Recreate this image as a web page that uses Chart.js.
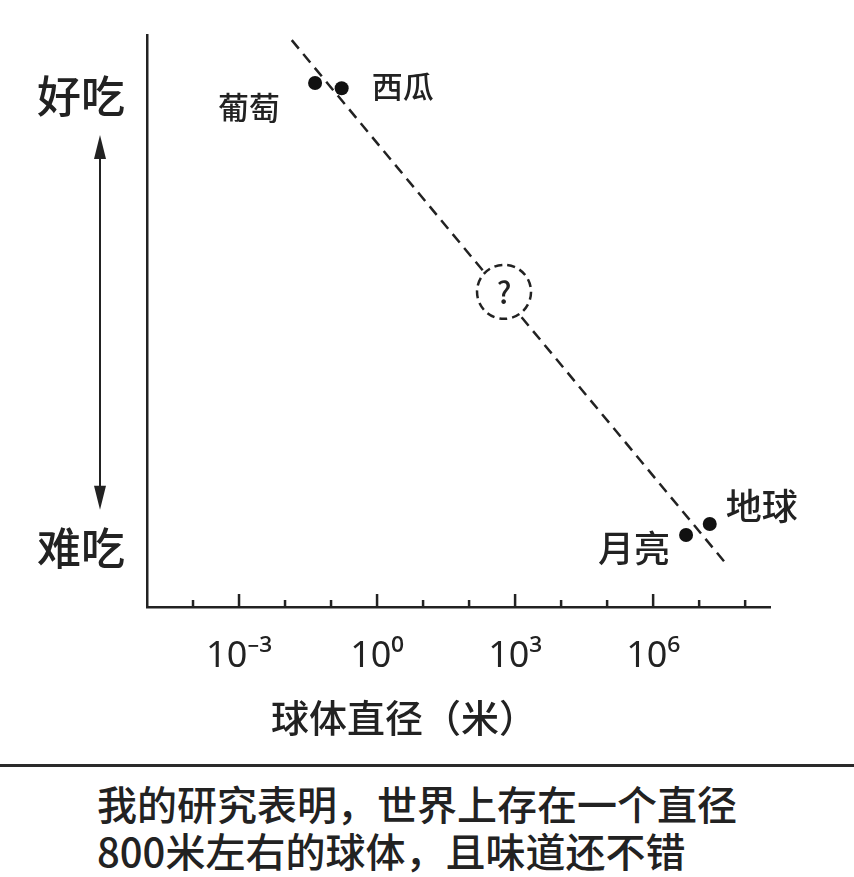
<!DOCTYPE html>
<html>
<head>
<meta charset="utf-8">
<script src="https://cdn.jsdelivr.net/npm/chart.js@4.4.1/dist/chart.umd.min.js"></script>
<style>
  html, body { margin: 0; padding: 0; background: #fff; }
  #wrap { position: relative; width: 854px; height: 764px; }
  #rule { width: 854px; height: 0; border-top: 3px solid #2a2a2a; }
  #caption {
    margin-top: 13px;
    padding-left: 97px;
    font-family: "Noto Sans CJK SC", sans-serif;
    font-weight: 500;
    font-size: 40px;
    line-height: 47px;
    color: #222;
  }
</style>
</head>
<body>
<div id="wrap"><canvas id="chart"></canvas></div>
<div id="rule"></div>
<div id="caption">我的研究表明，世界上存在一个直径<br>800米左右的球体，且味道还不错</div>
<script>
// data (x = diameter in metres, y = tastiness 0..100)
const categories = ['葡萄', '西瓜', '月亮', '地球'];
const diameters = [0.045, 0.17, 5.2e6, 1.7e7];
const tastiness = [91.6, 90.7, 12.6, 14.5];

const trendX = [0.014, 4.1e7];
const trendY = [99.1, 7.3];

const guessX = [575];
const guessY = [55.1];

const xTickExponents = [-4, -3, -2, -1, 0, 1, 2, 3, 4, 5, 6, 7, 8];
const xLabelExponents = [-3, 0, 3, 6];
const yTickValues = [89.2, 10.3];
const yTickLabels = ['好吃', '难吃'];
const arrowRange = [82.5, 17];

// label placement relative to each point (px)
const labelOffsets = [[-66, 24], [61, -2], [-52, 13], [52, -18]];
const labelSizes = [31, 31, 36, 36];

const INK = '#222';
const FONT = '"Noto Sans CJK SC", "Noto Sans", sans-serif';
const SUP = { '-': '⁻', '0': '⁰', '1': '¹', '2': '²', '3': '³', '4': '⁴', '5': '⁵', '6': '⁶', '7': '⁷', '8': '⁸', '9': '⁹' };

function sup(n) {
  return String(n).split('').map(c => SUP[c]).join('');
}

const sketchPlugin = {
  id: 'sketch',
  afterDatasetsDraw: (chart) => {
    var ctx = chart.ctx;
    ctx.save();

    // dashed circle with question mark
    var q = chart.getDatasetMeta(1).data[0];
    ctx.strokeStyle = INK;
    ctx.lineWidth = 2.5;
    ctx.setLineDash([8, 5]);
    ctx.beginPath();
    ctx.arc(q.x, q.y, 27, 0, Math.PI * 2);
    ctx.stroke();
    ctx.setLineDash([]);
    ctx.fillStyle = INK;
    ctx.font = '500 30px ' + FONT;
    ctx.textAlign = 'center';
    ctx.textBaseline = 'middle';
    ctx.fillText('?', q.x, q.y + 1);

    // point names
    var pts = chart.getDatasetMeta(2).data;
    pts.forEach((p, i) => {
      ctx.font = '500 ' + labelSizes[i] + 'px ' + FONT;
      ctx.fillText(categories[i], p.x + labelOffsets[i][0], p.y + labelOffsets[i][1]);
    });
    ctx.restore();
  },
  afterDraw: (chart) => {
    var ctx = chart.ctx,
    xs = chart.scales.x,
    ys = chart.scales.y,
    area = chart.chartArea;
    ctx.save();
    ctx.strokeStyle = INK;
    ctx.fillStyle = INK;
    ctx.lineWidth = 2.5;

    // tick marks pointing up into the plot
    xs.ticks.forEach(t => {
      var k = Math.round(Math.log10(t.value));
      var len = xLabelExponents.includes(k) ? 13 : 7;
      var px = xs.getPixelForValue(t.value);
      ctx.beginPath();
      ctx.moveTo(px, area.bottom);
      ctx.lineTo(px, area.bottom - len);
      ctx.stroke();
    });

    // double arrow between 好吃 and 难吃
    var ax = 100;
    var y1 = ys.getPixelForValue(arrowRange[0]);
    var y2 = ys.getPixelForValue(arrowRange[1]);
    ctx.lineWidth = 2;
    ctx.beginPath();
    ctx.moveTo(ax, y1 + 10);
    ctx.lineTo(ax, y2 - 10);
    ctx.stroke();
    ctx.beginPath();
    ctx.moveTo(ax, y1);
    ctx.lineTo(ax - 6, y1 + 24);
    ctx.lineTo(ax + 6, y1 + 24);
    ctx.closePath();
    ctx.fill();
    ctx.beginPath();
    ctx.moveTo(ax, y2);
    ctx.lineTo(ax - 6, y2 - 24);
    ctx.lineTo(ax + 6, y2 - 24);
    ctx.closePath();
    ctx.fill();

    // axis title
    ctx.font = '500 38px ' + FONT;
    ctx.textAlign = 'center';
    ctx.textBaseline = 'middle';
    ctx.fillText('球体直径（米）', 404, 718);
    ctx.restore();
  }
};

window.addEventListener('load', () => {
  Chart.defaults.font.family = FONT;
  Chart.defaults.color = INK;

  var config = {
    type: 'scatter',
    data: {
      datasets: [
        {
          label: 'trend',
          data: trendX.map((x, i) => ({ x: x, y: trendY[i] })),
          showLine: true,
          borderColor: INK,
          borderWidth: 2.5,
          borderDash: [11, 7],
          pointRadius: 0,
          order: 3,
        },
        {
          label: 'guess',
          data: guessX.map((x, i) => ({ x: x, y: guessY[i] })),
          pointRadius: 27,
          backgroundColor: '#fff',
          borderWidth: 0,
          order: 2,
        },
        {
          label: 'spheres',
          data: diameters.map((x, i) => ({ x: x, y: tastiness[i] })),
          pointRadius: 7,
          backgroundColor: '#111',
          borderWidth: 0,
          order: 1,
        },
      ],
    },
    options: {
      responsive: true,
      maintainAspectRatio: false,
      animation: false,
      layout: { padding: { left: 0, top: 35, right: 84, bottom: 0 } },
      plugins: {
        legend: { display: false },
        tooltip: { enabled: false },
      },
      scales: {
        x: {
          type: 'logarithmic',
          min: 1e-5,
          max: Math.pow(10, 8.54),
          grid: { display: false, drawTicks: false },
          border: { display: true, color: INK, width: 2.5 },
          afterBuildTicks: (scale) => {
            scale.ticks = xTickExponents.map(k => ({ value: Math.pow(10, k) }));
          },
          afterFit: (scale) => {
            scale.height = 764 - 607;
            scale.paddingLeft = 0;
            scale.paddingRight = 0;
          },
          ticks: {
            autoSkip: false,
            maxRotation: 0,
            padding: 28,
            font: { size: 36, family: '"Noto Sans", sans-serif' },
            callback: (value) => {
              var k = Math.round(Math.log10(value));
              return xLabelExponents.includes(k) ? '10' + sup(k) : '';
            },
          },
        },
        y: {
          min: 0,
          max: 100,
          grid: { display: false, drawTicks: false },
          border: { display: true, color: INK, width: 2.5 },
          afterBuildTicks: (scale) => {
            scale.ticks = yTickValues.map(v => ({ value: v }));
          },
          afterFit: (scale) => {
            scale.width = 147;
            scale.paddingTop = 0;
            scale.paddingBottom = 0;
          },
          ticks: {
            autoSkip: false,
            padding: 22,
            font: { size: 44, weight: 500 },
            callback: (value) => yTickLabels[yTickValues.indexOf(value)],
          },
        },
      },
    },
    plugins: [sketchPlugin],
  };

  var ctx = document.getElementById('chart').getContext('2d');
  window.tasteChart = new Chart(ctx, config);
});
</script>
</body>
</html>
